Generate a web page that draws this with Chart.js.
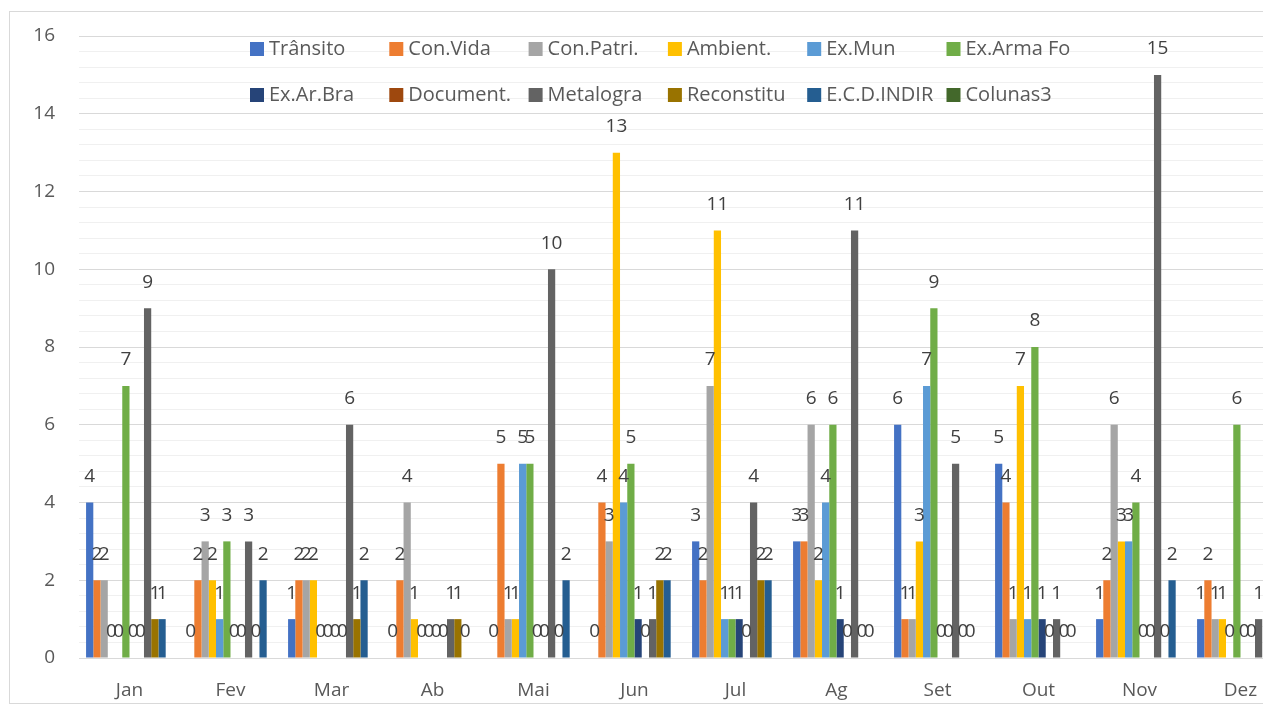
<!DOCTYPE html>
<html><head><meta charset="utf-8">
<script src="https://cdn.jsdelivr.net/npm/chart.js@4.4.0/dist/chart.umd.min.js"></script>
<style>
html,body{margin:0;padding:0;background:#fff;overflow:hidden;width:1263px;height:706px;}
#frame{position:absolute;left:9px;top:11px;width:1400px;height:691px;border:1px solid #d9d9d9;}
#c{position:absolute;left:0;top:0;}
</style></head><body>
<div id="frame"></div>
<canvas id="c" width="1300" height="706"></canvas>
<script>
const months = ['Jan','Fev','Mar','Ab','Mai','Jun','Jul','Ag','Set','Out','Nov','Dez'];
const seriesNames = ['Trânsito','Con.Vida','Con.Patri.','Ambient.','Ex.Mun','Ex.Arma Fo','Ex.Ar.Bra','Document.','Metalogra','Reconstitu','E.C.D.INDIR','Colunas3'];
const transito   = [4,0,1,0,0,0,3,3,6,5,1,1];
const conVida    = [2,2,2,2,5,4,2,3,1,4,2,2];
const conPatri   = [2,3,2,4,1,3,7,6,1,1,6,1];
const ambient    = [0,2,2,1,1,13,11,2,3,7,3,1];
const exMun      = [0,1,0,0,5,4,1,4,7,1,3,0];
const exArmaFo   = [7,3,0,0,5,5,1,6,9,8,4,6];
const exArBra    = [0,0,0,0,0,1,1,1,0,1,0,0];
const documentS  = [0,0,0,0,0,0,0,0,0,0,0,0];
const metalogra  = [9,3,6,1,10,1,4,11,5,1,15,1];
const reconstitu = [1,0,1,1,0,2,2,0,0,0,0,null];
const ecdIndir   = [1,2,2,0,2,2,2,0,0,0,2,null];
const colunas3   = [null,null,null,null,null,null,null,null,null,null,null,null];
const yTickLabels = [0,2,4,6,8,10,12,14,16];

const seriesValues = [transito,conVida,conPatri,ambient,exMun,exArmaFo,exArBra,documentS,metalogra,reconstitu,ecdIndir,colunas3];
const colors = ['#4472C4','#ED7D31','#A5A5A5','#FFC000','#5B9BD5','#70AD47','#264478','#9E480E','#636363','#997300','#255E91','#43682B'];

const FONT = '"Open Sans", sans-serif';

const legendPlugin = {
  id: 'excelLegend',
  afterDatasetsDraw(chart) {
    const ctx = chart.ctx;
    ctx.save();
    ctx.font = '20px ' + FONT;
    ctx.textBaseline = 'middle';
    ctx.textAlign = 'left';
    chart.data.datasets.forEach((ds, i) => {
      const col = i % 6, row = Math.floor(i / 6);
      const x = 250 + col * 139.3, y = 49 + row * 46;
      ctx.fillStyle = ds.backgroundColor;
      ctx.fillRect(x, y - 7, 14, 14);
      ctx.fillStyle = '#595959';
      ctx.fillText(ds.label, x + 19, y);
    });
    ctx.restore();
  }
};

const labelPlugin = {
  id: 'barLabels',
  afterDatasetsDraw(chart) {
    const ctx = chart.ctx;
    ctx.save();
    ctx.font = '19px ' + FONT;
    ctx.fillStyle = '#404040';
    ctx.textAlign = 'center';
    ctx.textBaseline = 'middle';
    chart.data.datasets.forEach((ds, i) => {
      const meta = chart.getDatasetMeta(i);
      meta.data.forEach((el, j) => {
        const v = ds.data[j];
        if (v === null || v === undefined) return;
        ctx.fillText(String(v), el.x, el.y - 26);
      });
    });
    ctx.restore();
  }
};

function isLabelTick(v) {
  const r = Math.round(v);
  return Math.abs(v - r) < 1e-6 && yTickLabels.includes(r);
}

new Chart(document.getElementById('c'), {
  type: 'bar',
  data: {
    labels: months,
    datasets: seriesNames.map((n, i) => ({
      label: n,
      data: seriesValues[i],
      backgroundColor: colors[i],
      borderWidth: 0,
      categoryPercentage: 0.86,
      barPercentage: 1.0
    }))
  },
  options: {
    responsive: false,
    animation: false,
    devicePixelRatio: 1,
    layout: { padding: { top: 36, left: 10, right: 9, bottom: 0 } },
    plugins: { legend: { display: false }, tooltip: { enabled: false } },
    scales: {
      x: {
        grid: { display: false },
        border: { display: false },
        ticks: { color: '#595959', font: { family: FONT, size: 19 }, padding: 13, maxRotation: 0 },
        afterFit(s) { s.height = 48; }
      },
      y: {
        min: 0, max: 16,
        border: { display: false },
        grid: {
          drawTicks: false,
          color: (c) => (c.tick && isLabelTick(c.tick.value)) ? '#d9d9d9' : '#f0f0f0',
          lineWidth: 1
        },
        ticks: {
          stepSize: 0.4,
          autoSkip: false,
          padding: 24,
          color: '#595959',
          font: { family: FONT, size: 19 },
          callback: (v) => isLabelTick(v) ? String(Math.round(v)) : ''
        },
        afterFit(s) { s.width = 69; }
      }
    }
  },
  plugins: [legendPlugin, labelPlugin]
});
</script>
</body></html>
